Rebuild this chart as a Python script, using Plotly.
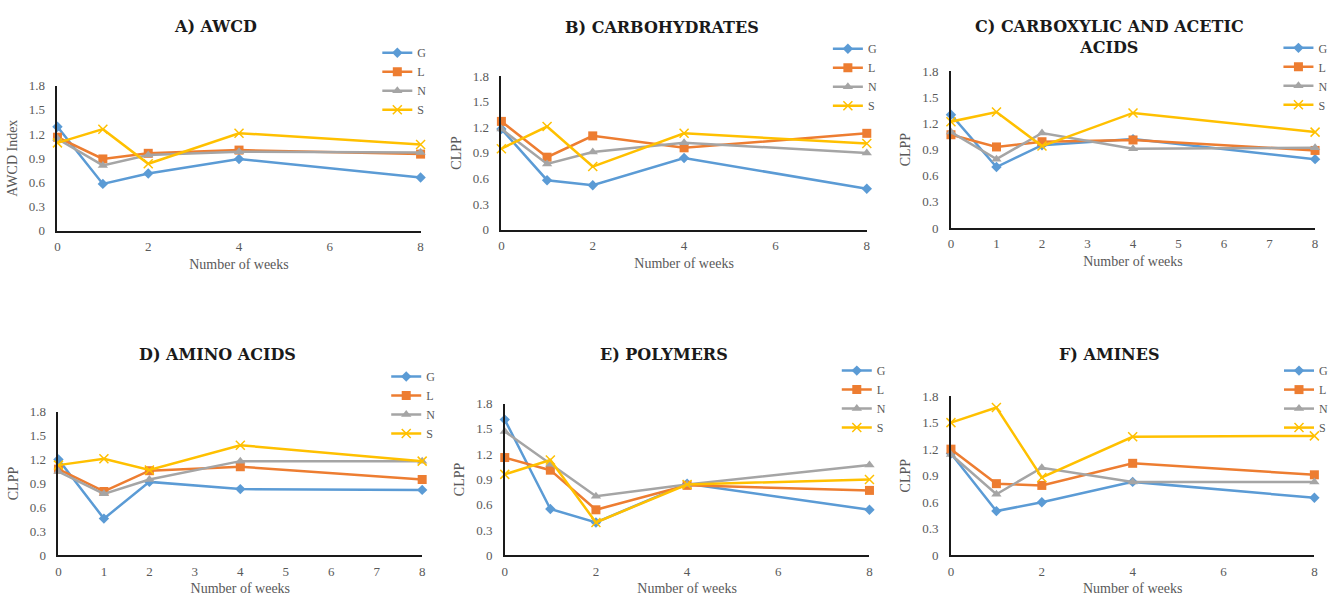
import plotly.graph_objects as go

W, H = 1333, 603

weeks = [0, 1, 2, 4, 8]
series_names = ["G", "L", "N", "S"]

# A) AWCD
A_G = [1.29, 0.58, 0.71, 0.89, 0.66]
A_L = [1.16, 0.89, 0.96, 1.00, 0.95]
A_N = [1.14, 0.81, 0.94, 0.98, 0.97]
A_S = [1.09, 1.26, 0.83, 1.21, 1.07]
# B) Carbohydrates
B_G = [1.18, 0.58, 0.52, 0.84, 0.48]
B_L = [1.27, 0.85, 1.10, 0.96, 1.13]
B_N = [1.18, 0.77, 0.91, 1.02, 0.90]
B_S = [0.95, 1.21, 0.74, 1.13, 1.01]
# C) Carboxylic and acetic acids
C_G = [1.30, 0.70, 0.95, 1.02, 0.79]
C_L = [1.07, 0.93, 0.99, 1.01, 0.89]
C_N = [1.10, 0.79, 1.09, 0.91, 0.92]
C_S = [1.22, 1.33, 0.94, 1.32, 1.10]
# D) Amino acids
D_G = [1.20, 0.46, 0.92, 0.83, 0.82]
D_L = [1.08, 0.80, 1.06, 1.11, 0.95]
D_N = [1.05, 0.77, 0.95, 1.18, 1.18]
D_S = [1.13, 1.21, 1.07, 1.38, 1.18]
# E) Polymers
E_G = [1.61, 0.55, 0.39, 0.85, 0.54]
E_L = [1.16, 1.01, 0.54, 0.83, 0.77]
E_N = [1.47, 1.08, 0.70, 0.84, 1.07]
E_S = [0.96, 1.13, 0.39, 0.84, 0.90]
# F) Amines
F_G = [1.15, 0.50, 0.60, 0.83, 0.65]
F_L = [1.20, 0.81, 0.79, 1.04, 0.91]
F_N = [1.14, 0.69, 0.99, 0.83, 0.83]
F_S = [1.50, 1.67, 0.88, 1.34, 1.35]

titles = ["A) AWCD", "B) CARBOHYDRATES", "C) CARBOXYLIC AND ACETIC<br>ACIDS",
          "D) AMINO ACIDS", "E) POLYMERS", "F) AMINES"]
y_titles = ["AWCD Index", "CLPP", "CLPP", "CLPP", "CLPP", "CLPP"]
x_title = "Number of weeks"
y_ticks = [0, 0.3, 0.6, 0.9, 1.2, 1.5, 1.8]
y_ticktext = ["0", "0.3", "0.6", "0.9", "1.2", "1.5", "1.8"]

panels = [
    [A_G, A_L, A_N, A_S],
    [B_G, B_L, B_N, B_S],
    [C_G, C_L, C_N, C_S],
    [D_G, D_L, D_N, D_S],
    [E_G, E_L, E_N, E_S],
    [F_G, F_L, F_N, F_S],
]

colors = ["#5B9BD5", "#ED7D31", "#A5A5A5", "#FFC000"]
symbols = ["diamond", "square", "triangle-up", "x-thin"]
msizes = [8, 9, 9, 9]

# layout geometry in pixels: (x0, x1, y_bottom, y_top)
plot_px = [
    (55, 421.7, 229.3, 80.7),
    (503.3, 872.3, 228.3, 71.0),
    (957.3, 1325.0, 226.7, 65.7),
    (56, 423.3, 562.3, 415.0),
    (506.7, 875.0, 562.3, 406.7),
    (957.3, 1324.3, 562.3, 399.0),
]
dticks = [2, 2, 1, 1, 2, 2]
title_pos = [(215, 20), (665.5, 21), (1117.5, 31), (217, 356), (668, 356), (1117, 356)]
legend_pos = [(378, 32), (833, 28), (1288, 27), (387, 364), (842, 358), (1289, 358)]

serif = "Liberation Serif"
title_font = "DejaVu Serif"
tick_color = "#595959"

fig = go.Figure()
layout = dict(
    width=W, height=H,
    margin=dict(l=0, r=0, t=0, b=0),
    paper_bgcolor="white", plot_bgcolor="white",
    font=dict(family=serif, size=12, color=tick_color),
    annotations=[],
)

for i, data in enumerate(panels):
    k = i + 1
    xa = "x" if k == 1 else f"x{k}"
    ya = "y" if k == 1 else f"y{k}"
    lg = "legend" if k == 1 else f"legend{k}"
    for j, vals in enumerate(data):
        marker = dict(symbol=symbols[j], size=msizes[j], color=colors[j])
        if symbols[j] == "x-thin":
            marker["line"] = dict(color=colors[j], width=1.5)
        fig.add_trace(go.Scatter(
            x=weeks, y=vals, name=series_names[j], mode="lines+markers",
            line=dict(color=colors[j], width=2.5),
            marker=marker, xaxis=xa, yaxis=ya, legend=lg, cliponaxis=False,
        ))
    x0, x1, yb, yt = plot_px[i]
    layout[f"xaxis{'' if k == 1 else k}"] = dict(
        domain=[x0 / W, x1 / W], anchor=ya, range=[0, 8], dtick=dticks[i], tick0=0,
        showgrid=False, zeroline=False, showline=True, linecolor="#1a1a1a", linewidth=1.5,
        ticks="", ticklabelstandoff=3, tickfont=dict(family=serif, size=13, color=tick_color),
        title=dict(text=x_title, font=dict(family=serif, size=14, color=tick_color), standoff=6),
        fixedrange=True,
    )
    layout[f"yaxis{'' if k == 1 else k}"] = dict(
        domain=[1 - yb / H, 1 - yt / H], anchor=xa, range=[0, 1.8],
        tickvals=y_ticks, ticktext=y_ticktext,
        showgrid=False, zeroline=False, showline=True, linecolor="#1a1a1a", linewidth=1.5,
        ticks="", ticklabelstandoff=8, tickfont=dict(family=serif, size=13, color=tick_color),
        title=dict(text=y_titles[i], font=dict(family=serif, size=14, color=tick_color), standoff=8),
        fixedrange=True,
    )
    lx, ly = legend_pos[i]
    layout[lg] = dict(
        x=lx / W, y=1 - ly / H, xanchor="left", yanchor="top",
        bgcolor="rgba(0,0,0,0)", font=dict(family=serif, size=12, color=tick_color),
        itemwidth=30, tracegroupgap=0,
    )
    tx, ty = title_pos[i]
    layout["annotations"].append(dict(
        text=titles[i], x=tx / W, y=1 - ty / H, xref="paper", yref="paper",
        xanchor="center", yanchor="middle", showarrow=False,
        font=dict(family=title_font, size=16, color="#1a1a1a", weight="bold"),
    ))

fig.update_layout(**layout)
fig.write_html("out.html")
